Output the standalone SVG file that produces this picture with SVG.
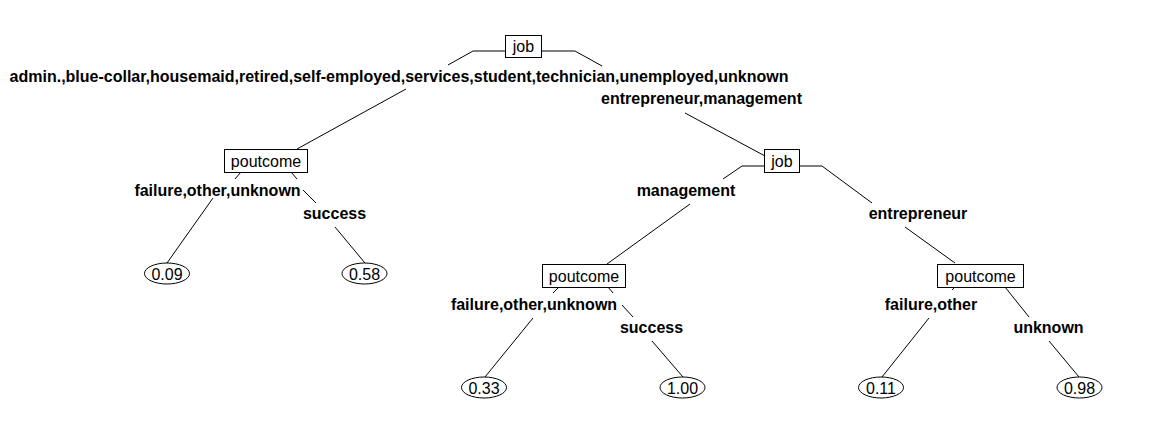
<svg xmlns="http://www.w3.org/2000/svg" width="1161" height="434" viewBox="0 0 1161 434">
<style>
.box{fill:#fff;stroke:#000;stroke-width:1}
.leaf{fill:#fff;stroke:#000;stroke-width:1}
.nt{font-family:"Liberation Sans",Arial,sans-serif;font-size:16px;text-anchor:middle;fill:#000}
.lb{font-family:"Liberation Sans",Arial,sans-serif;font-size:16px;font-weight:bold;text-anchor:middle;fill:#000}
.edges line,.edges polyline{stroke:#000;stroke-width:1;fill:none}
</style>
<rect width="1161" height="434" fill="#fff"/>
<g class="edges" id="connectors">
<polyline points="505,51 473,51 448,65"/>
<line x1="406" y1="89" x2="297" y2="149"/>
<polyline points="541,51 575,51 602,66"/>
<line x1="685" y1="113" x2="765" y2="156"/>
<polyline points="764,166 742,166 723,179"/>
<line x1="690" y1="204" x2="607" y2="264"/>
<polyline points="799,166 822,166 872,203"/>
<line x1="905" y1="227" x2="955" y2="263"/>
<line x1="241" y1="172" x2="235" y2="179"/>
<line x1="213" y1="198" x2="167" y2="263"/>
<line x1="291" y1="172" x2="297" y2="179"/>
<line x1="303" y1="190" x2="316" y2="203"/>
<line x1="335" y1="227" x2="365" y2="263"/>
<line x1="559" y1="287" x2="553" y2="293"/>
<line x1="533" y1="318" x2="485" y2="377"/>
<line x1="608" y1="287" x2="613" y2="293"/>
<line x1="622" y1="305" x2="633" y2="317"/>
<line x1="652" y1="341" x2="683" y2="377"/>
<line x1="955" y1="287" x2="952" y2="290"/>
<line x1="929" y1="318" x2="882" y2="377"/>
<line x1="1005" y1="287" x2="1029" y2="317"/>
<line x1="1049" y1="341" x2="1079" y2="377"/>
</g>
<g id="labels">
<text class="lb" x="399" y="82">admin.,blue-collar,housemaid,retired,self-employed,services,student,technician,unemployed,unknown</text>
<text class="lb" x="701.5" y="104">entrepreneur,management</text>
<text class="lb" x="217.5" y="196">failure,other,unknown</text>
<text class="lb" x="334.5" y="219">success</text>
<text class="lb" x="686" y="196">management</text>
<text class="lb" x="918" y="219">entrepreneur</text>
<text class="lb" x="534" y="310">failure,other,unknown</text>
<text class="lb" x="651.5" y="333">success</text>
<text class="lb" x="931" y="310">failure,other</text>
<text class="lb" x="1048.5" y="333">unknown</text>
</g>
<g id="node-job-root"><rect class="box" x="505.5" y="35.5" width="36" height="22"/><text class="nt" x="523.5" y="52">job</text></g>
<g id="node-poutcome-1"><rect class="box" x="224.5" y="149.5" width="83" height="23"/><text class="nt" x="266" y="166.5">poutcome</text></g>
<g id="node-job-2"><rect class="box" x="764.5" y="149.5" width="35" height="23"/><text class="nt" x="782" y="166.5">job</text></g>
<g id="node-poutcome-2"><rect class="box" x="542.5" y="264.5" width="83" height="23"/><text class="nt" x="584" y="281.5">poutcome</text></g>
<g id="node-poutcome-3"><rect class="box" x="937.5" y="264.5" width="86" height="23"/><text class="nt" x="980.5" y="281.5">poutcome</text></g>
<g id="leaf-009"><ellipse class="leaf" cx="167" cy="273.5" rx="22.5" ry="10.5"/><text class="nt" x="167" y="279.5">0.09</text></g>
<g id="leaf-058"><ellipse class="leaf" cx="364.5" cy="273.5" rx="22.5" ry="10.5"/><text class="nt" x="364.5" y="279.5">0.58</text></g>
<g id="leaf-033"><ellipse class="leaf" cx="484" cy="387.5" rx="22.5" ry="10.5"/><text class="nt" x="484" y="393.5">0.33</text></g>
<g id="leaf-100"><ellipse class="leaf" cx="682.5" cy="387.5" rx="22.5" ry="10.5"/><text class="nt" x="682.5" y="393.5">1.00</text></g>
<g id="leaf-011"><ellipse class="leaf" cx="881" cy="387.5" rx="22.5" ry="10.5"/><text class="nt" x="881" y="393.5">0.11</text></g>
<g id="leaf-098"><ellipse class="leaf" cx="1079.5" cy="387.5" rx="22.5" ry="10.5"/><text class="nt" x="1079.5" y="393.5">0.98</text></g>
</svg>
